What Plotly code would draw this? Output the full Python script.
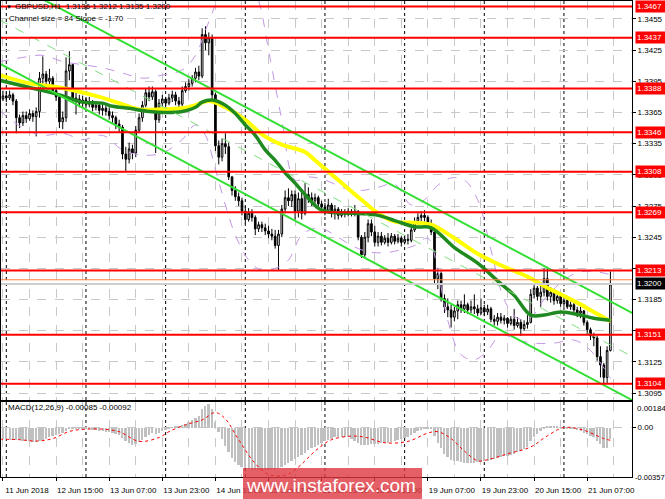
import plotly.graph_objects as go

# ---------------- data (GBPUSD, H1) ----------------
first_open = 1.3378
closes = [
    1.3381, 1.3379, 1.3382, 1.3376, 1.3360, 1.3355, 1.3362, 1.3359, 1.3364, 1.3361,
    1.3366, 1.3398, 1.3402, 1.3395, 1.3398, 1.3386, 1.3380, 1.3356, 1.3360, 1.3405,
    1.3411, 1.3379, 1.3378, 1.3374, 1.3377, 1.3373, 1.3375, 1.3370, 1.3372, 1.3367,
    1.3369, 1.3366, 1.3362, 1.3360, 1.3354, 1.3351, 1.3325, 1.3320, 1.3330, 1.3326,
    1.3348, 1.3360, 1.3372, 1.3384, 1.3380, 1.3385, 1.3358, 1.3374, 1.3378, 1.3374,
    1.3379, 1.3382, 1.3376, 1.3373, 1.3386, 1.3390, 1.3393, 1.3398, 1.3404, 1.3400,
    1.3440, 1.3432, 1.3437, 1.3382, 1.3333, 1.3322, 1.3335, 1.3332, 1.3303, 1.3290,
    1.3284, 1.3280, 1.3270, 1.3262, 1.3268, 1.3264, 1.3253, 1.3257, 1.3254, 1.3251,
    1.3248, 1.3246, 1.3237, 1.3248, 1.3272, 1.3283, 1.3280, 1.3286, 1.3270, 1.3282,
    1.3268, 1.3286, 1.3283, 1.3280, 1.3283, 1.3277, 1.3274, 1.3271, 1.3276, 1.3268,
    1.3272, 1.3266, 1.3269, 1.3267, 1.3270, 1.3268, 1.3270, 1.3245, 1.3228, 1.3245,
    1.3258, 1.3250, 1.3240, 1.3246, 1.3240, 1.3244, 1.3240, 1.3246, 1.3241, 1.3244,
    1.3240, 1.3243, 1.3242, 1.3252, 1.3260, 1.3264, 1.3266, 1.3264, 1.3258, 1.3250,
    1.3205, 1.3210, 1.3186, 1.3178, 1.3175, 1.3168, 1.3174, 1.3180, 1.3176, 1.3180,
    1.3175, 1.3178, 1.3176, 1.3172, 1.3177, 1.3173, 1.3176, 1.3166, 1.3164, 1.3168,
    1.3165, 1.3167, 1.3162, 1.3166, 1.3160, 1.3163, 1.3157, 1.3161, 1.3163, 1.3190,
    1.3196, 1.3188, 1.3192, 1.3205, 1.3188, 1.3192, 1.3184, 1.3188, 1.3181, 1.3184,
    1.3178, 1.3180, 1.3175, 1.3172, 1.3174, 1.3163, 1.3156, 1.3150, 1.3148, 1.3130,
    1.3122, 1.3110, 1.3136, 1.3200,
]
highs = [
    1.3386, 1.3385, 1.3386, 1.3384, 1.3378, 1.3363, 1.3366, 1.3366, 1.3368, 1.3367,
    1.3370, 1.3404, 1.3419, 1.3405, 1.3407, 1.3400, 1.3390, 1.3381, 1.3366, 1.3418,
    1.3424, 1.3412, 1.3385, 1.3382, 1.3381, 1.3379, 1.3380, 1.3377, 1.3376, 1.3374,
    1.3373, 1.3372, 1.3370, 1.3366, 1.3362, 1.3358, 1.3353, 1.3332, 1.3336, 1.3334,
    1.3352, 1.3364, 1.3376, 1.3388, 1.3390, 1.3390, 1.3387, 1.3378, 1.3382, 1.3380,
    1.3383, 1.3386, 1.3385, 1.3380, 1.3390, 1.3394, 1.3397, 1.3401, 1.3408, 1.3410,
    1.3446, 1.3448, 1.3442, 1.3440, 1.3384, 1.3338, 1.3340, 1.3345, 1.3336, 1.3304,
    1.3294, 1.3288, 1.3283, 1.3275, 1.3273, 1.3272, 1.3266, 1.3260, 1.3260, 1.3258,
    1.3256, 1.3253, 1.3252, 1.3252, 1.3276, 1.3290, 1.3292, 1.3290, 1.3290, 1.3288,
    1.3290, 1.3297, 1.3293, 1.3288, 1.3287, 1.3285, 1.3280, 1.3278, 1.3282, 1.3278,
    1.3276, 1.3274, 1.3272, 1.3272, 1.3273, 1.3272, 1.3276, 1.3271, 1.3247, 1.3250,
    1.3262, 1.3262, 1.3256, 1.3250, 1.3250, 1.3247, 1.3249, 1.3249, 1.3248, 1.3248,
    1.3246, 1.3247, 1.3248, 1.3255, 1.3264, 1.3268, 1.3270, 1.3271, 1.3266, 1.3262,
    1.3252, 1.3215, 1.3212, 1.3190, 1.3186, 1.3180, 1.3178, 1.3184, 1.3184, 1.3190,
    1.3182, 1.3184, 1.3190, 1.3180, 1.3186, 1.3180, 1.3180, 1.3178, 1.3170, 1.3172,
    1.3172, 1.3170, 1.3168, 1.3169, 1.3176, 1.3168, 1.3166, 1.3165, 1.3170, 1.3195,
    1.3200, 1.3198, 1.3200, 1.3215, 1.3215, 1.3197, 1.3195, 1.3192, 1.3190, 1.3189,
    1.3186, 1.3183, 1.3182, 1.3178, 1.3178, 1.3175, 1.3165, 1.3158, 1.3153, 1.3150,
    1.3140, 1.3124, 1.3140, 1.3212,
]
lows = [
    1.3376, 1.3375, 1.3377, 1.3372, 1.3345, 1.3350, 1.3352, 1.3355, 1.3357, 1.3356,
    1.3342, 1.3360, 1.3388, 1.3388, 1.3390, 1.3383, 1.3376, 1.3350, 1.3349, 1.3356,
    1.3396, 1.3375, 1.3363, 1.3370, 1.3370, 1.3369, 1.3370, 1.3366, 1.3367, 1.3363,
    1.3362, 1.3362, 1.3358, 1.3355, 1.3349, 1.3346, 1.3320, 1.3308, 1.3316, 1.3320,
    1.3322, 1.3345, 1.3356, 1.3370, 1.3376, 1.3377, 1.3326, 1.3355, 1.3370, 1.3368,
    1.3372, 1.3375, 1.3372, 1.3370, 1.3371, 1.3384, 1.3386, 1.3390, 1.3394, 1.3396,
    1.3398, 1.3425, 1.3420, 1.3378, 1.3328, 1.3315, 1.3318, 1.3325, 1.3300, 1.3285,
    1.3280, 1.3275, 1.3266, 1.3258, 1.3260, 1.3260, 1.3247, 1.3250, 1.3250, 1.3247,
    1.3244, 1.3242, 1.3234, 1.3213, 1.3245, 1.3268, 1.3275, 1.3274, 1.3262, 1.3264,
    1.3262, 1.3266, 1.3278, 1.3275, 1.3276, 1.3272, 1.3268, 1.3266, 1.3268, 1.3264,
    1.3262, 1.3262, 1.3264, 1.3264, 1.3265, 1.3265, 1.3265, 1.3242, 1.3225, 1.3226,
    1.3240, 1.3246, 1.3236, 1.3236, 1.3237, 1.3238, 1.3236, 1.3238, 1.3238, 1.3239,
    1.3236, 1.3238, 1.3238, 1.3240, 1.3250, 1.3257, 1.3260, 1.3260, 1.3254, 1.3247,
    1.3200, 1.3195, 1.3183, 1.3172, 1.3168, 1.3158, 1.3164, 1.3166, 1.3172, 1.3172,
    1.3171, 1.3172, 1.3171, 1.3169, 1.3170, 1.3169, 1.3170, 1.3163, 1.3160, 1.3160,
    1.3162, 1.3161, 1.3158, 1.3160, 1.3156, 1.3158, 1.3150, 1.3155, 1.3157, 1.3162,
    1.3186, 1.3184, 1.3178, 1.3188, 1.3184, 1.3182, 1.3180, 1.3181, 1.3178, 1.3178,
    1.3176, 1.3175, 1.3172, 1.3168, 1.3167, 1.3160, 1.3152, 1.3146, 1.3140, 1.3126,
    1.3110, 1.3103, 1.3104, 1.3135,
]
bars = list(range(len(closes)))
opens = [first_open] + closes[:-1]

# moving averages (read at a few bars, smoothed by spline)
yellow_bars = [-1, 8, 17, 29, 35, 41, 48, 54, 58, 62, 67, 73, 78, 84, 91, 94, 101, 108,
               113, 118, 124, 129, 136, 143, 150, 158, 163, 168, 173, 178, 183]
yellow_vals = [1.3401, 1.3393, 1.3389, 1.3380, 1.3374, 1.3368, 1.3368, 1.3369, 1.3372,
               1.3376, 1.3370, 1.3358, 1.3344, 1.3334, 1.3327, 1.3319, 1.3300, 1.3281,
               1.3268, 1.3260, 1.3259, 1.3257, 1.3244, 1.3229, 1.3218, 1.3207, 1.3198,
               1.3190, 1.3182, 1.3173, 1.3164]
green_bars = [-1, 8, 17, 24, 30, 33, 38, 44, 49, 54, 58, 60, 63, 67, 70, 73, 76, 79, 82,
              85, 88, 91, 96, 106, 113, 118, 124, 129, 136, 143, 149, 154, 159, 163, 168,
              174, 178, 183]
green_vals = [1.3396, 1.3389, 1.3382, 1.3375, 1.3374, 1.3371, 1.3369, 1.3366, 1.3365,
              1.3366, 1.3370, 1.3375, 1.3377, 1.3372, 1.3364, 1.3353, 1.3343, 1.3329,
              1.3319, 1.3307, 1.3297, 1.3286, 1.3271, 1.3268, 1.3266, 1.3261, 1.3255,
              1.3254, 1.3235, 1.3220, 1.3203, 1.3189, 1.3170, 1.3170, 1.3173, 1.3170,
              1.3167, 1.3165]

# bands (violet dashed)
upper_band_bars = [-1, 6, 12, 18, 24, 30, 36, 42, 48, 54, 58, 61, 64, 67, 72, 77, 80, 84,
                   88, 92, 97, 103, 108, 113, 118, 123, 127, 131, 135, 139, 143, 147, 151,
                   155, 159, 163, 168, 173, 178, 183]
upper_band_vals = [1.3414, 1.3418, 1.3420, 1.3414, 1.3411, 1.3408, 1.3403, 1.3398, 1.3401,
                   1.3406, 1.3420, 1.3444, 1.3469, 1.3493, 1.3512, 1.3473, 1.3425, 1.3358,
                   1.3300, 1.3303, 1.3300, 1.3292, 1.3290, 1.3293, 1.3296, 1.3276, 1.3281,
                   1.3295, 1.3302, 1.3300, 1.3281, 1.3233, 1.3185, 1.3167, 1.3168, 1.3185,
                   1.3201, 1.3211, 1.3212, 1.3209]
lower_band_bars = [-1, 6, 12, 18, 24, 30, 36, 42, 48, 54, 58, 61, 64, 67, 70, 74, 78, 82,
                   86, 90, 95, 100, 105, 110, 115, 120, 124, 128, 131, 134, 138, 142, 146,
                   150, 155, 160, 166, 172, 177, 183]
lower_band_vals = [1.3367, 1.3350, 1.3343, 1.3345, 1.3339, 1.3343, 1.3329, 1.3324, 1.3326,
                   1.3339, 1.3353, 1.3343, 1.3310, 1.3276, 1.3247, 1.3223, 1.3213, 1.3215,
                   1.3223, 1.3247, 1.3254, 1.3247, 1.3237, 1.3231, 1.3230, 1.3233, 1.3237,
                   1.3244, 1.3213, 1.3165, 1.3132, 1.3127, 1.3136, 1.3151, 1.3146, 1.3143,
                   1.3143, 1.3146, 1.3136, 1.3109]

# regression channel: size 84 pips, slope -1.70 pips per bar
channel_bars = [-1, 190]
channel_top = [1.34961, 1.31714]
channel_size = 0.0084

red_levels = [1.3467, 1.3437, 1.3388, 1.3346, 1.3308, 1.3269, 1.3213, 1.3151, 1.3104]
ask_level = 1.3204
bid_level = 1.3200

# MACD(12,26,9)
macd = [
    -0.00085, -0.00086, -0.00088, -0.00088, -0.00090, -0.00092, -0.00095, -0.00098, -0.00100, -0.00104,
    -0.00106, -0.00100, -0.00090, -0.00080, -0.00070, -0.00058, -0.00052, -0.00048, -0.00040, -0.00022,
    -0.00008, -0.00004, -0.00006, -0.00008, -0.00010, -0.00012, -0.00014, -0.00016, -0.00018, -0.00022,
    -0.00026, -0.00030, -0.00034, -0.00040, -0.00046, -0.00052, -0.00075, -0.00100, -0.00115, -0.00125,
    -0.00118, -0.00105, -0.00090, -0.00070, -0.00052, -0.00040, -0.00045, -0.00038, -0.00028, -0.00018,
    -0.00008, 0.00002, 0.00005, 0.00008, 0.00018, 0.00028, 0.00040, 0.00055, 0.00070, 0.00085,
    0.00130, 0.00158, 0.00170, 0.00130, 0.00040, -0.00030, -0.00085, -0.00130, -0.00180, -0.00220,
    -0.00250, -0.00270, -0.00285, -0.00295, -0.00300, -0.00305, -0.00308, -0.00310, -0.00310, -0.00308,
    -0.00305, -0.00302, -0.00300, -0.00295, -0.00282, -0.00270, -0.00258, -0.00245, -0.00230, -0.00215,
    -0.00200, -0.00182, -0.00165, -0.00150, -0.00138, -0.00125, -0.00112, -0.00100, -0.00090, -0.00080,
    -0.00072, -0.00068, -0.00066, -0.00068, -0.00070, -0.00085, -0.00095, -0.00110, -0.00125, -0.00128,
    -0.00125, -0.00122, -0.00120, -0.00118, -0.00115, -0.00112, -0.00110, -0.00106, -0.00100, -0.00090,
    -0.00082, -0.00075, -0.00068, -0.00055, -0.00040, -0.00028, -0.00018, -0.00010, -0.00006, -0.00008,
    -0.00060, -0.00110, -0.00150, -0.00190, -0.00215, -0.00232, -0.00240, -0.00245, -0.00250, -0.00255,
    -0.00256, -0.00256, -0.00255, -0.00252, -0.00248, -0.00242, -0.00238, -0.00234, -0.00228, -0.00220,
    -0.00214, -0.00208, -0.00202, -0.00196, -0.00190, -0.00180, -0.00170, -0.00158, -0.00140, -0.00100,
    -0.00070, -0.00045, -0.00025, -0.00008, 0.00005, 0.00008, 0.00006, 0.00004, 0.00002, -0.00002,
    -0.00006, -0.00010, -0.00014, -0.00020, -0.00028, -0.00036, -0.00046, -0.00058, -0.00072, -0.00095,
    -0.00120, -0.00145, -0.00150, -0.00085,
]
signal_bars = [-1, 5, 10, 15, 20, 25, 30, 35, 41, 47, 50, 55, 60, 64, 67, 71, 76, 80, 85,
               88, 95, 99, 105, 109, 115, 122, 128, 131, 135, 139, 143, 146, 152, 159, 164,
               169, 175, 181, 183]
signal_vals = [-0.00085, -0.00088, -0.00098, -0.00080, -0.00028, -0.00012, -0.00012, -0.00030,
               -0.00100, -0.00072, -0.00030, 0.00020, 0.00055, 0.00108, 0.00062, -0.00088,
               -0.00260, -0.00338, -0.00345, -0.00305, -0.00150, -0.00088, -0.00062, -0.00070,
               -0.00110, -0.00100, -0.00040, -0.00030, -0.00080, -0.00170, -0.00240, -0.00232,
               -0.00190, -0.00140, -0.00060, 0.00000, -0.00020, -0.00080, -0.00092]
macd_max, macd_min = 0.00184, -0.00357

label_bars = [0, 16, 32, 48, 64, 80, 96, 112, 128, 144, 160, 176]
label_text = ["11 Jun 2018", "12 Jun 15:00", "13 Jun 07:00", "13 Jun 23:00", "14 Jun 15:00",
              "15 Jun 07:00", "15 Jun 23:00", "18 Jun 15:00", "19 Jun 07:00", "19 Jun 23:00",
              "20 Jun 15:00", "21 Jun 07:00"]
day_start_bars = [1, 25, 49, 73, 97, 121, 145, 169]

# ---------------- layout constants ----------------
W, H = 665, 499
ML, MR, MT, MB = 1, 33, 1, 22
X_RANGE = [-0.6, 189.5]
Y_RANGE = [1.30883, 1.34723]
GRID = "#c8c8c8"
FONT = "Liberation Sans, Arial, sans-serif"


def px(x):
    return (x - ML) / (W - ML - MR)


def py(y):
    return (H - MB - y) / (H - MT - MB)


fig = go.Figure()

fig.add_trace(go.Candlestick(
    x=bars, open=opens, high=highs, low=lows, close=closes,
    increasing=dict(line=dict(color="black", width=1), fillcolor="white"),
    decreasing=dict(line=dict(color="black", width=1), fillcolor="black"),
    whiskerwidth=0, hoverinfo="skip", xaxis="x", yaxis="y"
))

fig.add_trace(go.Scatter(x=upper_band_bars, y=upper_band_vals, mode="lines",
                         line=dict(color="#c497e6", width=1, dash="dash", shape="spline")))
fig.add_trace(go.Scatter(x=lower_band_bars, y=lower_band_vals, mode="lines",
                         line=dict(color="#c497e6", width=1, dash="dash", shape="spline")))
fig.add_trace(go.Scatter(x=yellow_bars, y=yellow_vals, mode="lines",
                         line=dict(color="#ffff00", width=4, shape="spline")))
fig.add_trace(go.Scatter(x=green_bars, y=green_vals, mode="lines",
                         line=dict(color="#1f8a1f", width=3.5, shape="spline")))

channel_mid = [v - channel_size / 2 for v in channel_top]
channel_low = [v - channel_size for v in channel_top]
fig.add_trace(go.Scatter(x=channel_bars, y=channel_top, mode="lines",
                         line=dict(color="#33e033", width=2)))
fig.add_trace(go.Scatter(x=channel_bars, y=channel_mid, mode="lines",
                         line=dict(color="#7ee07e", width=1, dash="dash")))
fig.add_trace(go.Scatter(x=channel_bars, y=channel_low, mode="lines",
                         line=dict(color="#33e033", width=2)))

# MACD panel
fig.add_trace(go.Bar(x=bars, y=macd, marker=dict(color="#c0c0c0", line=dict(width=0)),
                     width=0.6, xaxis="x2", yaxis="y2", hoverinfo="skip"))
fig.add_trace(go.Scatter(x=signal_bars, y=signal_vals, mode="lines", xaxis="x2", yaxis="y2",
                         line=dict(color="#ff0000", width=1, dash="dot", shape="spline")))

shapes = []
for b in day_start_bars:
    for yr in ("y domain", "y2 domain"):
        shapes.append(dict(type="line", xref="x", yref=yr, x0=b, x1=b, y0=0, y1=1,
                           line=dict(color="black", width=1, dash="dot"), layer="below"))
shapes.append(dict(type="line", xref="x domain", yref="y", x0=0, x1=1, y0=bid_level, y1=bid_level,
                   line=dict(color="#cfcfcf", width=2), layer="above"))
shapes.append(dict(type="line", xref="x domain", yref="y", x0=0, x1=1, y0=ask_level, y1=ask_level,
                   line=dict(color="#ff8040", width=1), layer="above"))
for lvl in red_levels:
    shapes.append(dict(type="line", xref="x domain", yref="y", x0=0, x1=1, y0=lvl, y1=lvl,
                       line=dict(color="#ff0000", width=2), layer="above"))
# watermark plate (covers the time labels under it)
shapes.append(dict(type="rect", xref="paper", yref="paper", x0=px(243), x1=px(422),
                   y0=py(499), y1=py(468), fillcolor="rgba(222,56,64,0.80)",
                   line=dict(width=0), layer="above"))

annotations = []
for lvl in red_levels:
    annotations.append(dict(xref="paper", yref="y", x=1, y=lvl, xanchor="left", yanchor="middle",
                            xshift=3, text=f"{lvl:.4f}", showarrow=False, bgcolor="#ff0000",
                            font=dict(color="white", size=8, family=FONT), borderpad=1,
                            width=30, align="left"))
annotations.append(dict(xref="paper", yref="y", x=1, y=bid_level, xanchor="left", yanchor="middle",
                        xshift=3, text=f"{bid_level:.4f}", showarrow=False, bgcolor="black",
                        font=dict(color="white", size=8, family=FONT), borderpad=1,
                        width=30, align="left"))
annotations.append(dict(xref="paper", yref="y2 domain", x=1, y=1, xanchor="left", yanchor="top",
                        xshift=3, text=f"{macd_max:.5f}", showarrow=False,
                        font=dict(size=8, color="black", family=FONT)))
annotations.append(dict(xref="paper", yref="y2 domain", x=1, y=0, xanchor="left", yanchor="middle",
                        xshift=1, text=f"{macd_min:.5f}", showarrow=False,
                        font=dict(size=7.5, color="black", family=FONT)))
annotations.append(dict(xref="paper", yref="paper", x=px(4), y=py(7), xanchor="left",
                        yanchor="middle", text="▼", showarrow=False,
                        font=dict(size=6, color="black", family=FONT)))
annotations.append(dict(xref="paper", yref="paper", x=px(13), y=py(7), xanchor="left",
                        yanchor="middle", text="GBPUSD,H1  1.3136 1.3212 1.3135 1.3200",
                        showarrow=False, font=dict(size=8, color="black", family=FONT)))
annotations.append(dict(xref="paper", yref="paper", x=px(7), y=py(19), xanchor="left",
                        yanchor="middle", text="Channel size = 84 Slope = -1.70",
                        showarrow=False, font=dict(size=8, color="black", family=FONT)))
annotations.append(dict(xref="paper", yref="paper", x=px(6), y=py(407), xanchor="left",
                        yanchor="middle", text="MACD(12,26,9) -0.00085 -0.00092",
                        showarrow=False, font=dict(size=8, color="black", family=FONT)))
annotations.append(dict(xref="paper", yref="paper", x=px(331), y=py(485), xanchor="center",
                        yanchor="middle", text="www.instaforex.com", showarrow=False,
                        font=dict(size=19, color="white", family=FONT)))

axis_common = dict(showline=True, linecolor="black", linewidth=1, mirror=True, zeroline=False)

fig.update_layout(
    width=W, height=H, margin=dict(l=ML, r=MR, t=MT, b=MB),
    paper_bgcolor="white", plot_bgcolor="white", showlegend=False,
    font=dict(family=FONT, size=8, color="black"),
    bargap=0,
    xaxis=dict(domain=[0, 1], anchor="y", range=X_RANGE, tickmode="linear", tick0=0, dtick=8,
               showticklabels=False, ticks="", showgrid=True, gridcolor=GRID, griddash="dash",
               rangeslider=dict(visible=False), **axis_common),
    xaxis2=dict(domain=[0, 1], anchor="y2", matches="x", range=X_RANGE, tickmode="array",
                tickvals=label_bars, ticktext=label_text, ticklabelshift=24,
                ticklabelstandoff=2, tickfont=dict(size=8), ticks="outside", ticklen=3,
                tickcolor="black", showgrid=True, gridcolor=GRID, griddash="dash",
                minor=dict(tickmode="linear", tick0=0, dtick=8, showgrid=True, gridcolor=GRID,
                           griddash="dash", ticks=""),
                **axis_common),
    yaxis=dict(domain=[py(400), 1], anchor="x", side="right", range=Y_RANGE,
               tickmode="linear", tick0=1.3095, dtick=0.003, tickformat=".4f",
               ticks="outside", ticklen=3, tickcolor="black", showgrid=True,
               gridcolor=GRID, griddash="dash", tickfont=dict(size=8), **axis_common),
    yaxis2=dict(domain=[0, py(402)], anchor="x2", side="right", range=[macd_min, macd_max],
                tickmode="array", tickvals=[0], ticktext=["0.00"], ticks="outside", ticklen=3,
                tickcolor="black", showgrid=True, gridcolor=GRID, griddash="dash",
                tickfont=dict(size=8), **axis_common),
    shapes=shapes, annotations=annotations,
)

# the page has a default body margin; drop it so the chart sits at the window's corner
fig.write_html("out.html", config={"displayModeBar": False},
               post_script="document.body.style.margin='0';")
